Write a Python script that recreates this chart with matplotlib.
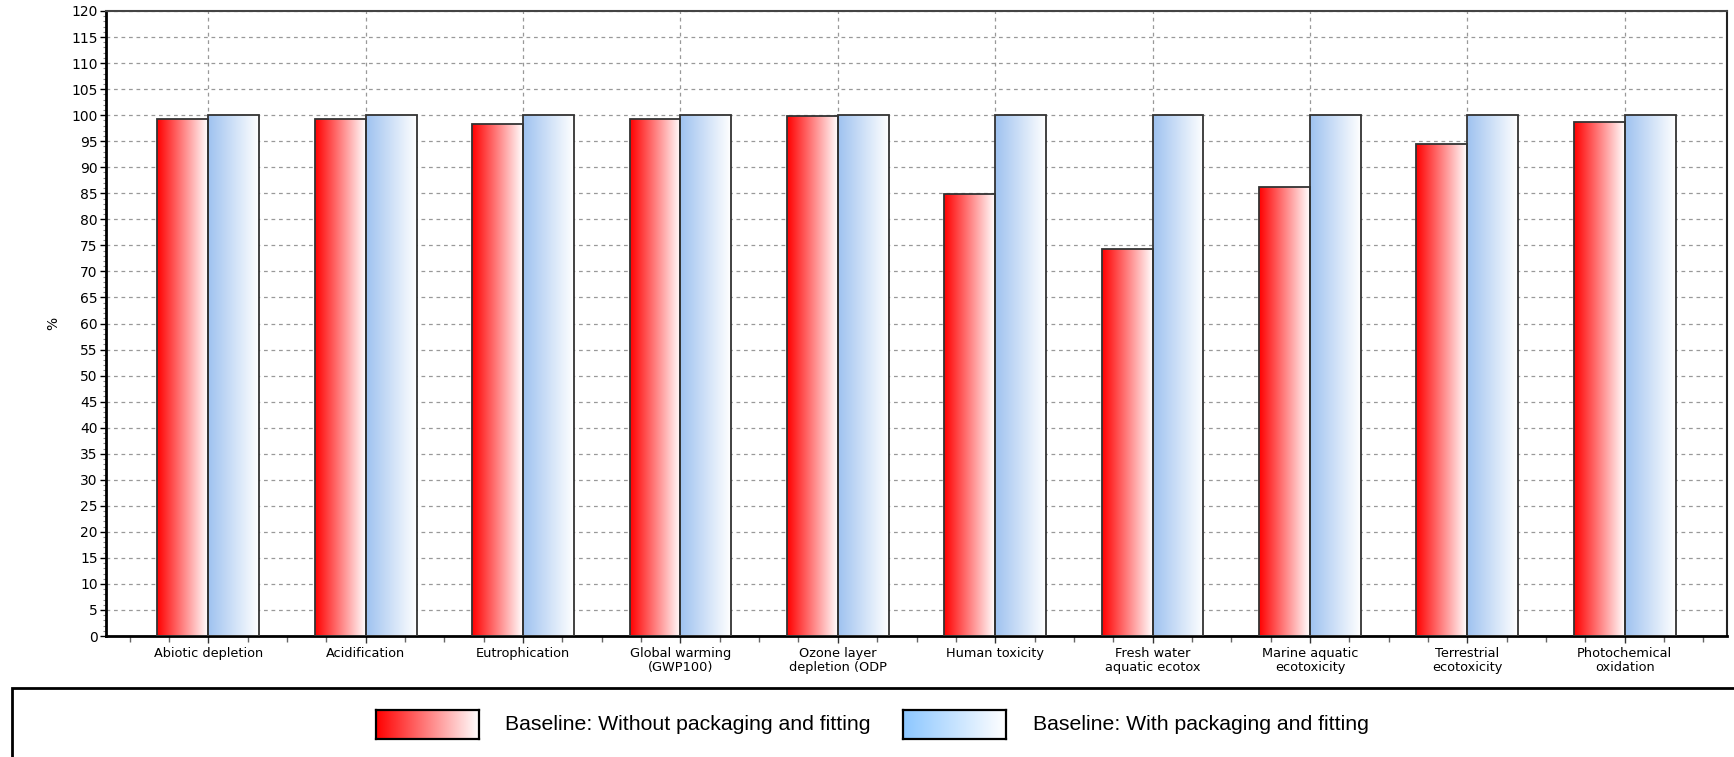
import numpy as np
import matplotlib
matplotlib.use("Agg")
import matplotlib.pyplot as plt
from matplotlib.colors import LinearSegmentedColormap
from matplotlib.patches import Rectangle
from matplotlib.ticker import MultipleLocator

categories = ["Abiotic depletion", "Acidification", "Eutrophication",
              "Global warming\n(GWP100)", "Ozone layer\ndepletion (ODP",
              "Human toxicity", "Fresh water\naquatic ecotox",
              "Marine aquatic\necotoxicity", "Terrestrial\necotoxicity",
              "Photochemical\noxidation"]
without_pack = [99.2, 99.2, 98.4, 99.2, 99.75, 84.9, 74.3, 86.2, 94.4, 98.7]
with_pack = [100, 100, 100, 100, 100, 100, 100, 100, 100, 100]
series_names = ["Baseline: Without packaging and fitting",
                "Baseline: With packaging and fitting"]

red_cmap = LinearSegmentedColormap.from_list("redw", [(1, 0, 0), (1, 0.5, 0.5), (1, 1, 1)])
blue_cmap = LinearSegmentedColormap.from_list("bluew", [(0.62, 0.76, 0.94), (1, 1, 1)])
blue_leg_cmap = LinearSegmentedColormap.from_list("bluel", [(0.55, 0.78, 1.0), (1, 1, 1)])
grad = np.linspace(0, 1, 256).reshape(1, -1)


def gradient_bars(ax, bars, cmap):
    for b in bars:
        x0, w, h = b.get_x(), b.get_width(), b.get_height()
        im = ax.imshow(grad, cmap=cmap, aspect="auto", extent=(x0, x0 + w, 0, h),
                       interpolation="bicubic", zorder=2)
        im.set_clip_path(b)


fig = plt.figure(figsize=(17.34, 7.57), dpi=100)
ax = fig.add_axes([106 / 1734, 1 - 636 / 757, (1727 - 106) / 1734, (636 - 11) / 757])

x = np.arange(len(categories))
w = 0.323
b1 = ax.bar(x - w / 2, without_pack, w, facecolor="none", edgecolor="#333333", linewidth=1.3, zorder=3)
b2 = ax.bar(x + w / 2, with_pack, w, facecolor="none", edgecolor="#333333", linewidth=1.3, zorder=3)
gradient_bars(ax, b1, red_cmap)
gradient_bars(ax, b2, blue_cmap)

ax.set_xlim(-0.65, len(categories) - 1 + 0.65)
ax.set_ylim(0, 120)
ax.yaxis.set_major_locator(MultipleLocator(5))
ax.yaxis.set_minor_locator(MultipleLocator(1))
ax.set_xticks(x)
ax.set_xticklabels(categories, fontsize=9.3, family="DejaVu Sans", linespacing=1.1)
ax.xaxis.set_minor_locator(MultipleLocator(0.25))
ax.tick_params(axis="x", which="major", length=5, width=1, color="#333333", pad=3)
ax.tick_params(axis="x", which="minor", length=4, width=1, color="#666666")
ax.tick_params(axis="y", which="major", length=4, width=1, labelsize=10, pad=2)
ax.tick_params(axis="y", which="minor", length=2, width=0.8, color="#888888")
ax.set_ylabel("%", fontsize=10, labelpad=8)

ax.grid(True, which="major", color="#999999", linestyle=(0, (3, 3)), linewidth=0.9, zorder=0)
ax.set_axisbelow(True)
for side in ["left", "bottom"]:
    ax.spines[side].set_linewidth(2)
    ax.spines[side].set_color("black")
ax.spines["top"].set_linewidth(1.5)
ax.spines["top"].set_color("#444444")
ax.spines["right"].set_linewidth(1.5)
ax.spines["right"].set_color("#222222")

# legend box
fig.patches.append(Rectangle((12 / 1734, -0.01), 1730 / 1734, (757 - 688) / 757 + 0.01,
                             transform=fig.transFigure, facecolor="white",
                             edgecolor="black", linewidth=2, zorder=-1))
leg_specs = [(376, red_cmap, series_names[0], 505), (903, blue_leg_cmap, series_names[1], 1033)]
for px, cmap, name, tx in leg_specs:
    lax = fig.add_axes([px / 1734, 1 - 739 / 757, 103 / 1734, 29 / 757])
    lax.set_zorder(2)
    lax.imshow(grad, cmap=cmap, aspect="auto", interpolation="bicubic")
    lax.set_xticks([])
    lax.set_yticks([])
    for s in lax.spines.values():
        s.set_linewidth(1.6)
        s.set_color("black")
    fig.text(tx / 1734, 1 - 724.5 / 757, name, fontsize=15.3, family="Liberation Sans",
             va="center", ha="left", zorder=3)

fig.savefig("out.png", dpi=100)
